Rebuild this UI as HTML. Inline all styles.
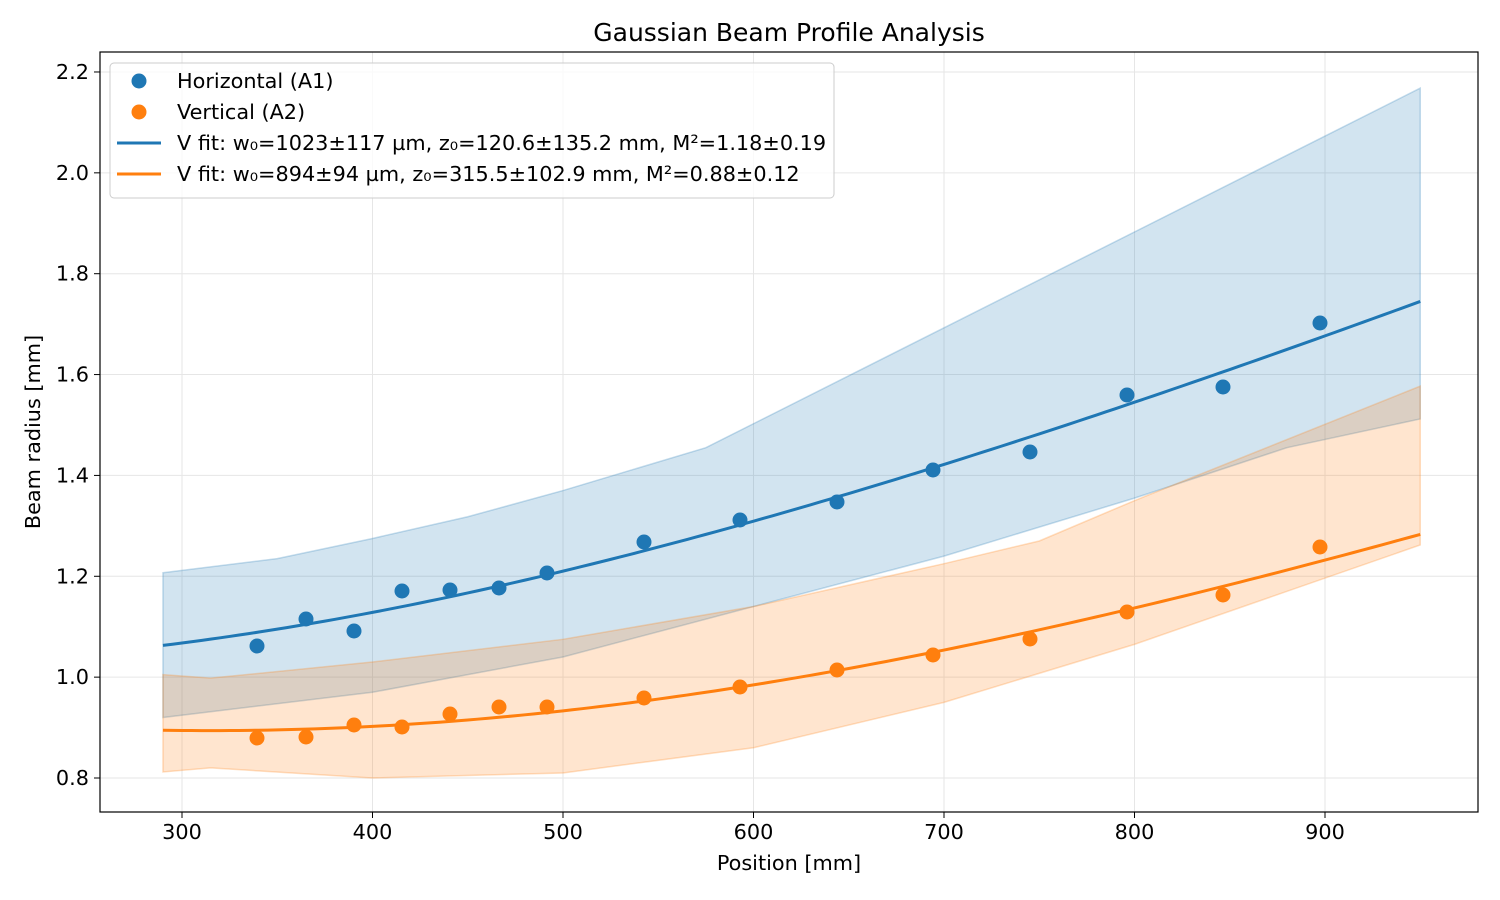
<!DOCTYPE html>
<html><head><meta charset="utf-8"><style>
body{margin:0;background:#fff;}
svg{display:block;font-family:"DejaVu Sans","Liberation Sans",sans-serif;}
</style></head><body>
<svg id="s" width="1500" height="900" xmlns="http://www.w3.org/2000/svg">
<rect width="1500" height="900" fill="#fff"/>
<g id="grid"></g>
<g id="bands"></g>
<g id="lines"></g>
<g id="pts"></g>
<rect x="100" y="52" width="1378" height="760" fill="none" stroke="#000" stroke-width="1.2"/>
<g id="ticks"></g>
<text x="789" y="41" font-size="25" text-anchor="middle">Gaussian Beam Profile Analysis</text>
<text x="789" y="870" font-size="20.8" text-anchor="middle">Position [mm]</text>
<text transform="translate(40,432) rotate(-90)" font-size="20.8" text-anchor="middle">Beam radius [mm]</text>
<g>
<rect x="110" y="63" width="724" height="135" rx="4" fill="#fff" fill-opacity="0.8" stroke="#ccc"/>
<circle cx="139" cy="81" r="7.5" fill="#1f77b4"/>
<text x="177" y="88" font-size="20.8">Horizontal (A1)</text>
<circle cx="139" cy="112" r="7.5" fill="#ff7f0e"/>
<text x="177" y="119" font-size="20.8">Vertical (A2)</text>
<line x1="117" y1="143" x2="161" y2="143" stroke="#1f77b4" stroke-width="3"/>
<text x="177" y="150" font-size="20.8">V fit: w₀=1023±117 µm, z₀=120.6±135.2 mm, M²=1.18±0.19</text>
<line x1="117" y1="174" x2="161" y2="174" stroke="#ff7f0e" stroke-width="3"/>
<text x="177" y="181" font-size="20.8">V fit: w₀=894±94 µm, z₀=315.5±102.9 mm, M²=0.88±0.12</text>
</g>
</svg>
<script>
const X=v=>182+(v-300)*1.905, Y=v=>778-(v-0.8)*504.3;
const NS="http://www.w3.org/2000/svg";
function el(p,t,a){const e=document.createElementNS(NS,t);for(const k in a)e.setAttribute(k,a[k]);document.getElementById(p).appendChild(e);return e;}
for(let v=300;v<=900;v+=100){el('grid','line',{x1:X(v),x2:X(v),y1:52,y2:812,stroke:'#e6e6e6','stroke-width':1});
 el('ticks','line',{x1:X(v),x2:X(v),y1:812,y2:818,stroke:'#000'});
 el('ticks','text',{x:X(v),y:839,'font-size':20.8,'text-anchor':'middle'}).textContent=v;}
for(let i=0;i<=7;i++){const v=0.8+i*0.2;
 el('grid','line',{x1:100,x2:1478,y1:Y(v),y2:Y(v),stroke:'#e6e6e6','stroke-width':1});
 el('ticks','line',{x1:94,x2:100,y1:Y(v),y2:Y(v),stroke:'#000'});
 el('ticks','text',{x:89,y:Y(v)+7,'font-size':20.8,'text-anchor':'end'}).textContent=v.toFixed(1);}
function band(up,lo,col){let d='M'+up.map(p=>X(p[0])+','+Y(p[1])).join('L')+'L'+lo.slice().reverse().map(p=>X(p[0])+','+Y(p[1])).join('L')+'Z';
 el('bands','path',{d:d,fill:col,'fill-opacity':0.2,stroke:col,'stroke-opacity':0.25,'stroke-width':1.5});}
band([[290,1.207],[350,1.235],[400,1.275],[450,1.318],[500,1.37],[575,1.455],[950,2.168]],
     [[290,0.92],[400,0.97],[500,1.04],[600,1.14],[700,1.24],[800,1.355],[880,1.455],[950,1.512]],'#1f77b4');
band([[290,1.005],[315,0.998],[400,1.03],[500,1.075],[600,1.14],[700,1.225],[750,1.27],[800,1.35],[950,1.577]],
     [[290,0.812],[315,0.82],[400,0.8],[500,0.81],[600,0.86],[700,0.95],[800,1.065],[950,1.262]],'#ff7f0e');
function fit(z0,w0,b,col){let pts=[];for(let z=290;z<=950;z+=5){pts.push(X(z)+','+Y(Math.sqrt(w0*w0+b*(z-z0)**2)));}
 el('lines','polyline',{points:pts.join(' '),fill:'none',stroke:col,'stroke-width':3});}
fit(120.6,1.023,2.905e-6,'#1f77b4');fit(315.5,0.894,2.104e-6,'#ff7f0e');
const bx=[257,306,354,402,450,499,547,644,740,837,933,1030,1127,1223,1320];
const by=[646,619,631,591,590,588,573,542,520,502,470,452,395,387,323];
const oy=[738,737,725,727,714,707,707,698,687,670,655,639,612,595,547];
bx.forEach((x,i)=>{el('pts','circle',{cx:x,cy:by[i],r:7.5,fill:'#1f77b4'});el('pts','circle',{cx:x,cy:oy[i],r:7.5,fill:'#ff7f0e'});});
</script>
</body></html>
